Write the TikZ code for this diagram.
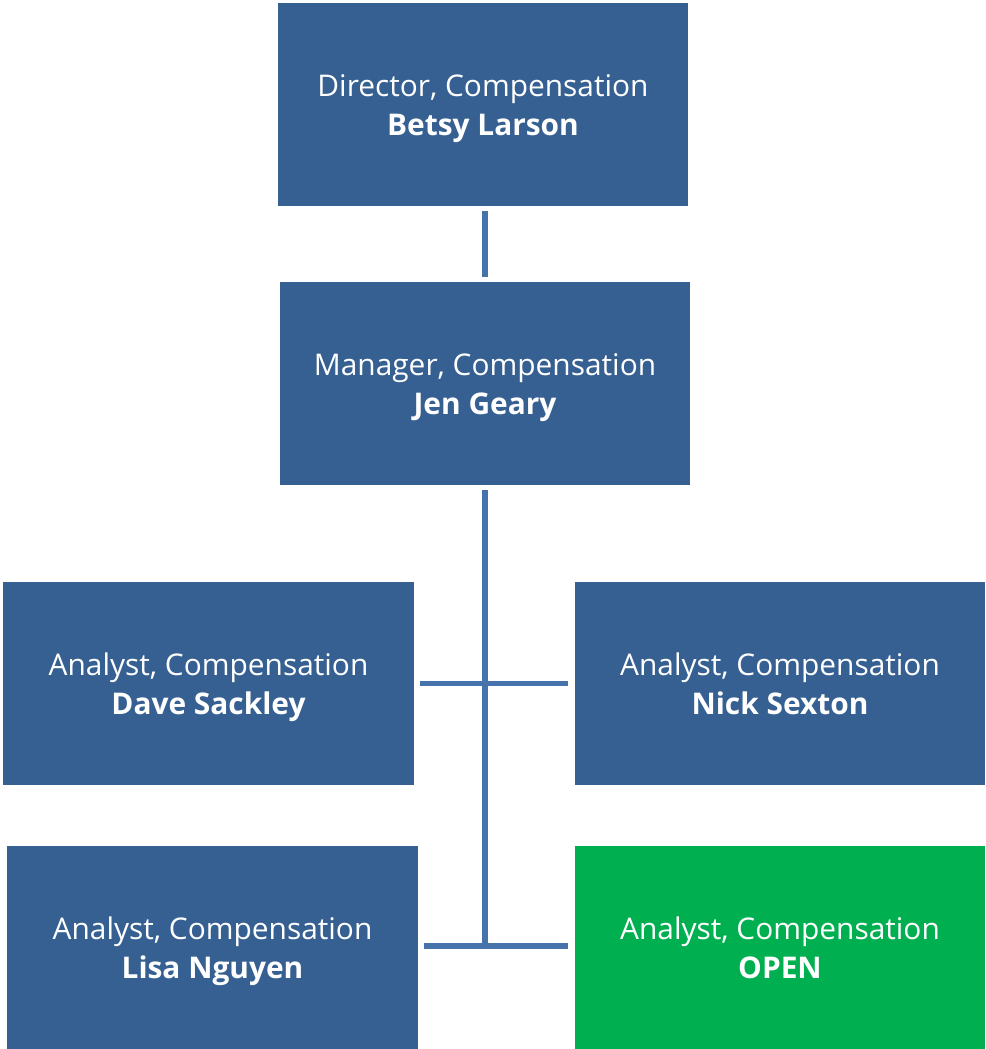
\documentclass[tikz,border=0pt]{standalone}
\usepackage{fontspec}
\setmainfont{Open Sans}
\usetikzlibrary{positioning}
\definecolor{cbox}{HTML}{366092}
\definecolor{copen}{HTML}{00B050}
\definecolor{cline}{HTML}{4673AB}
\tikzset{
  every picture/.style={x=0.75pt, y=-0.75pt},
  box/.style={fill=#1, text=white, align=center, inner sep=0pt,
    minimum width=308pt, minimum height=152pt,
    font=\fontsize{22.4}{29.5}\selectfont,
    text height=56pt, text depth=9pt},
  box/.default=cbox,
  link/.style={draw=cline, line width=3.8pt},
}
\begin{document}
\begin{tikzpicture}
  \useasboundingbox (0,0) rectangle (985,1049);
  % top of the chart
  \node[box] (director) at (483,104.5) {Director, Compensation\\\textbf{Betsy Larson}};
  \node[box] (manager) at (485,383.5) {Manager, Compensation\\\textbf{Jen Geary}};
  % analysts
  \node[box] (dave) at (208.5,683.5) {Analyst, Compensation\\\textbf{Dave Sackley}};
  \node[box] (nick) at (780,683.5) {Analyst, Compensation\\\textbf{Nick Sexton}};
  \node[box] (lisa) at (212.5,947.5) {Analyst, Compensation\\\textbf{Lisa Nguyen}};
  \node[box=copen] (open) at (780,947.5) {Analyst, Compensation\\\textbf{OPEN}};
  % connectors
  \coordinate (spine) at (485,946);
  \draw[link, shorten <=4pt, shorten >=4pt] (director.south -| manager.south) -- (manager.north);
  \draw[link, shorten <=4pt] (manager.south) -- (spine);
  \draw[link, shorten <=4.5pt, shorten >=4.5pt] (dave.east) -- (nick.west);
  \draw[link, shorten <=4.5pt, shorten >=4.5pt] (lisa.east |- spine) -- (open.west |- spine);
\end{tikzpicture}
\end{document}
